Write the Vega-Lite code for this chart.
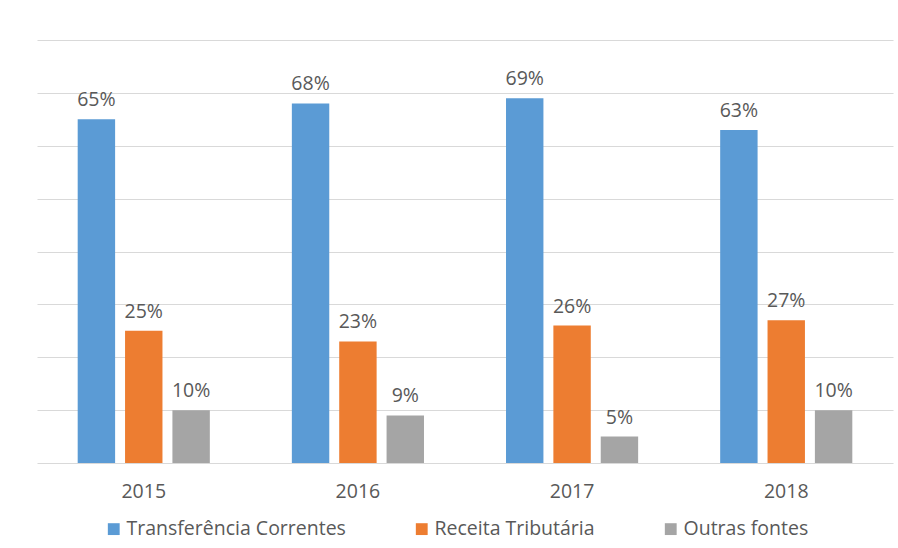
{
  "$schema": "https://vega.github.io/schema/vega-lite/v6.json",
  "autosize": {"type": "none"},
  "width": 856,
  "height": 423,
  "padding": {"left": 37, "top": 40, "right": 5, "bottom": 85},
  "background": "white",
  "config": {
    "view": {"stroke": null},
    "font": "Open Sans",
    "text": {"font": "Open Sans"}
  },
  "data": {
    "values": [
      {"ano": "2015", "serie": "Transferência Correntes", "valor": 0.65},
      {"ano": "2015", "serie": "Receita Tributária", "valor": 0.25},
      {"ano": "2015", "serie": "Outras fontes", "valor": 0.10},
      {"ano": "2016", "serie": "Transferência Correntes", "valor": 0.68},
      {"ano": "2016", "serie": "Receita Tributária", "valor": 0.23},
      {"ano": "2016", "serie": "Outras fontes", "valor": 0.09},
      {"ano": "2017", "serie": "Transferência Correntes", "valor": 0.69},
      {"ano": "2017", "serie": "Receita Tributária", "valor": 0.26},
      {"ano": "2017", "serie": "Outras fontes", "valor": 0.05},
      {"ano": "2018", "serie": "Transferência Correntes", "valor": 0.63},
      {"ano": "2018", "serie": "Receita Tributária", "valor": 0.27},
      {"ano": "2018", "serie": "Outras fontes", "valor": 0.10}
    ]
  },
  "encoding": {
    "x": {
      "field": "ano", "type": "nominal", "title": null,
      "scale": {"paddingInner": 0.383, "paddingOuter": 0.19},
      "axis": {
        "labelAngle": 0, "labelFontSize": 19.5, "labelColor": "#595959", "labelFont": "Open Sans",
        "ticks": false, "domain": true, "domainColor": "#d9d9d9", "domainWidth": 1,
        "labelPadding": 19, "grid": false
      }
    },
    "xOffset": {
      "field": "serie", "type": "nominal",
      "sort": ["Transferência Correntes", "Receita Tributária", "Outras fontes"],
      "scale": {"paddingInner": 0.21, "paddingOuter": 0}
    },
    "y": {
      "field": "valor", "type": "quantitative", "title": null,
      "scale": {"domain": [0, 0.8], "nice": false},
      "axis": {
        "labels": false, "ticks": false, "domain": false,
        "values": [0.1, 0.2, 0.3, 0.4, 0.5, 0.6, 0.7, 0.8],
        "gridColor": "#d9d9d9", "gridWidth": 1
      }
    }
  },
  "layer": [
    {
      "mark": {"type": "bar"},
      "encoding": {
        "color": {
          "field": "serie", "type": "nominal", "title": null,
          "scale": {
            "domain": ["Transferência Correntes", "Receita Tributária", "Outras fontes"],
            "range": ["#5B9BD5", "#ED7D31", "#A5A5A5"]
          },
          "legend": {
            "orient": "none", "direction": "horizontal",
            "legendX": 67, "legendY": 479,
            "symbolType": "square", "symbolSize": 140, "symbolStrokeWidth": 0,
            "labelFontSize": 19.5, "labelColor": "#595959", "labelFont": "Open Sans",
            "labelOffset": 3, "columnPadding": 66, "labelLimit": 400
          }
        }
      }
    },
    {
      "mark": {"type": "text", "baseline": "bottom", "dy": -9, "fontSize": 19.5, "color": "#595959"},
      "encoding": {
        "text": {"field": "valor", "type": "quantitative", "format": ".0%"}
      }
    }
  ]
}
